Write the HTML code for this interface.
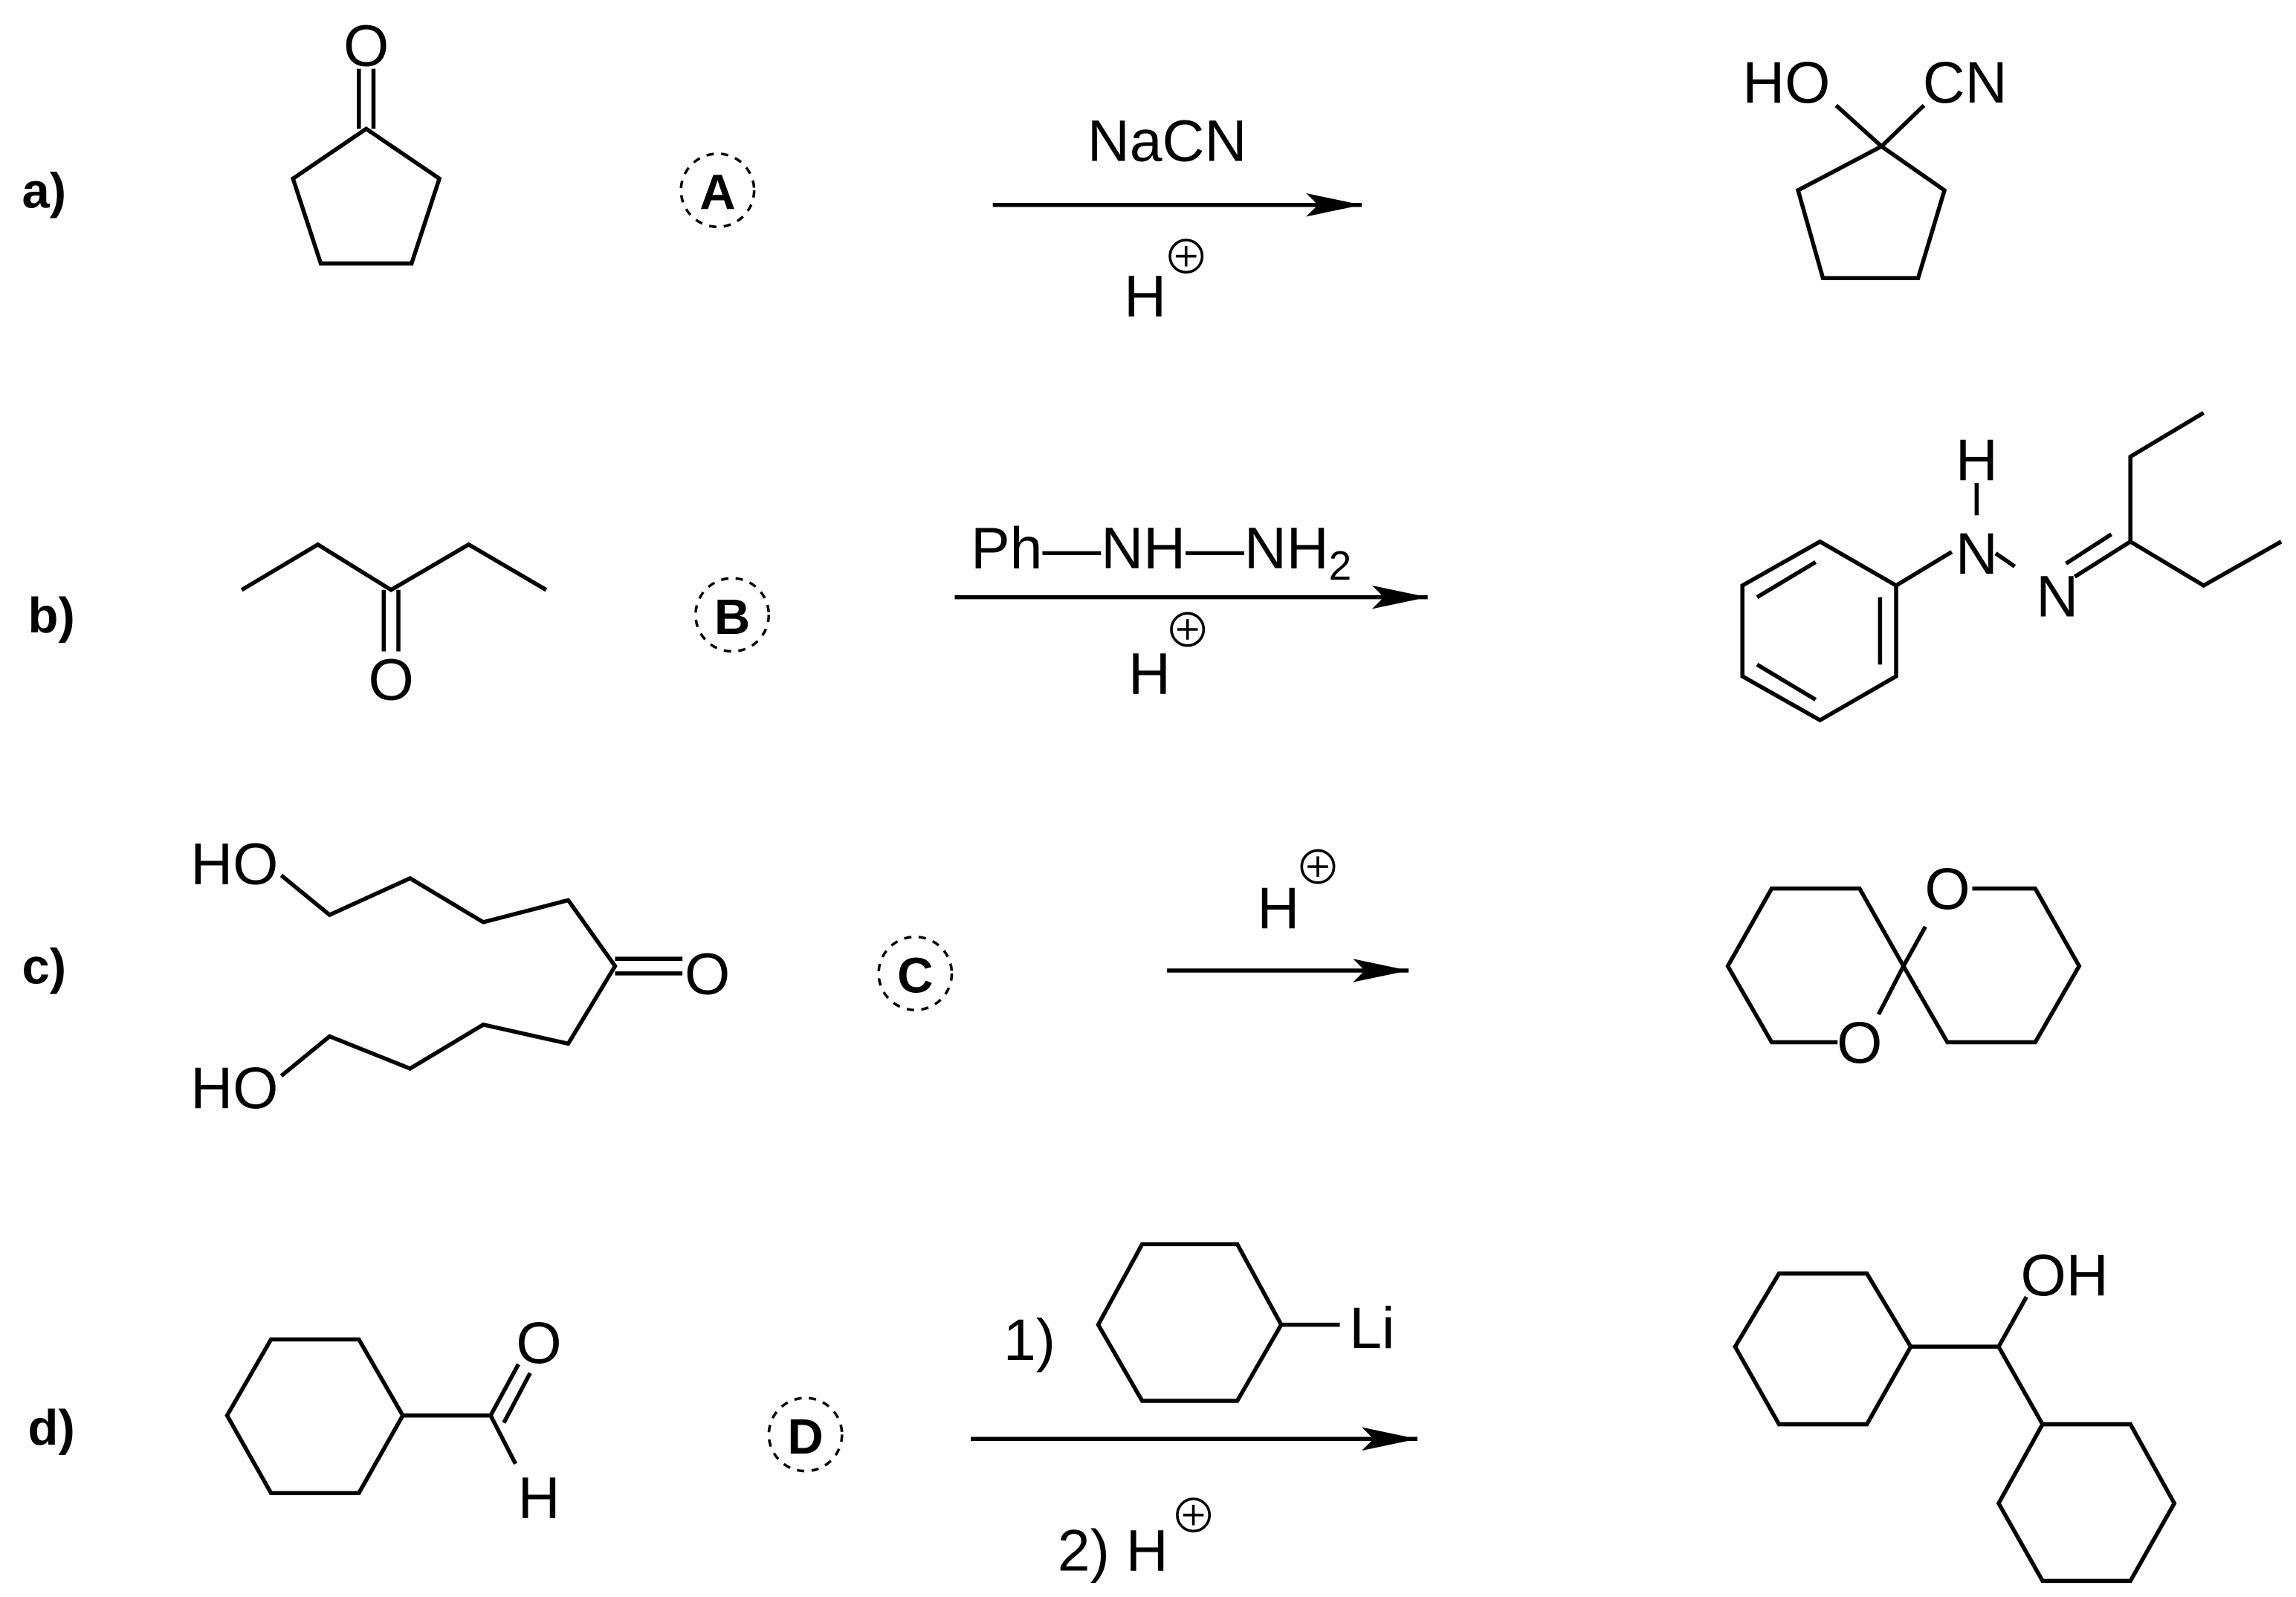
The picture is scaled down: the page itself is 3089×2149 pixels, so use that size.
<!DOCTYPE html>
<html><head><meta charset="utf-8"><style>
html,body{margin:0;padding:0;background:#fff;}
svg{display:block;}
text{font-family:"Liberation Sans",sans-serif;fill:#000;}
</style></head><body>
<svg width="3089" height="2149" viewBox="0 0 1568 1091" xmlns="http://www.w3.org/2000/svg">
<defs>
<marker id="ah" markerWidth="40" markerHeight="20" refX="38" refY="10" orient="auto" markerUnits="userSpaceOnUse">
<path d="M0,2 L38,10 L0,18 L8,10 Z" fill="#000"/>
</marker>
</defs>
<g fill="none" stroke="#000" stroke-width="2.8" stroke-linejoin="miter">
<polygon points="250,88 300,122 281,180 219,180 200,122"/>
<line x1="245" y1="47" x2="245" y2="88"/><line x1="255" y1="47" x2="255" y2="88"/>
<polygon points="1285,100 1328,130 1310,190 1245,190 1228,130"/>
<line x1="1285" y1="100" x2="1254" y2="72"/><line x1="1285" y1="100" x2="1314" y2="72"/>
<line x1="678" y1="140" x2="930" y2="140" marker-end="url(#ah)"/>
<line x1="652" y1="408" x2="975" y2="408" marker-end="url(#ah)"/>
<line x1="797" y1="663" x2="962" y2="663" marker-end="url(#ah)"/>
<line x1="663" y1="983" x2="968" y2="983" marker-end="url(#ah)"/>
<polyline points="165,403 217,372 267,403 320,372 373,403"/>
<line x1="262" y1="403" x2="262" y2="445"/><line x1="272" y1="403" x2="272" y2="445"/>
<polygon points="1243,370 1295,400 1295,462 1243,492 1190,462 1190,400"/>
<line x1="1200" y1="408" x2="1240" y2="384"/>
<line x1="1284" y1="408" x2="1284" y2="454"/>
<line x1="1200" y1="454" x2="1240" y2="478"/>
<line x1="1295" y1="400" x2="1333" y2="377"/>
<line x1="1350" y1="330" x2="1350" y2="352"/>
<line x1="1363" y1="378" x2="1376" y2="387"/>
<line x1="1417" y1="394" x2="1455" y2="370"/>
<line x1="1411" y1="385" x2="1442" y2="365"/>
<polyline points="1505,282 1455,312 1455,370 1505,400 1558,370"/>
<polyline points="192,598 225,625 280,600 330,630 388,615 420,660 388,713 330,700 280,730 225,708 192,735"/>
<line x1="420" y1="655" x2="466" y2="655"/><line x1="420" y1="665" x2="466" y2="665"/>
<polyline points="1255,712 1210,712 1180,660 1210,607 1270,607 1300,660 1283,693"/>
<polyline points="1300,660 1315,633"/>
<polyline points="1347,607 1390,607 1420,660 1390,712 1330,712 1300,660"/>
<polygon points="185,915 245,915 275,967 245,1020 185,1020 155,967"/>
<line x1="275" y1="967" x2="335" y2="967"/>
<line x1="335" y1="967" x2="354" y2="932"/><line x1="344" y1="972" x2="362" y2="938"/>
<line x1="335" y1="967" x2="352" y2="1000"/>
<polygon points="780,850 845,850 875,905 845,957 780,957 750,905"/>
<line x1="875" y1="905" x2="915" y2="905"/>
<polygon points="1215,870 1275,870 1305,920 1275,973 1215,973 1185,920"/>
<line x1="1305" y1="920" x2="1365" y2="920"/>
<line x1="1365" y1="920" x2="1384" y2="886"/>
<line x1="1365" y1="920" x2="1395" y2="973"/>
<polygon points="1395,973 1455,973 1485,1027 1455,1080 1395,1080 1365,1027"/>
<g stroke-width="1.8" stroke-dasharray="5,5">
<circle cx="490" cy="130" r="25"/>
<circle cx="500" cy="420" r="25"/>
<circle cx="625" cy="665" r="25"/>
<circle cx="550" cy="980" r="25"/>
</g>
<g stroke-width="1.8">
<circle cx="810" cy="175" r="11"/><line x1="803" y1="175" x2="817" y2="175"/><line x1="810" y1="168" x2="810" y2="182"/>
<circle cx="811" cy="430" r="11"/><line x1="804" y1="430" x2="818" y2="430"/><line x1="811" y1="423" x2="811" y2="437"/>
<circle cx="900" cy="592" r="11"/><line x1="893" y1="592" x2="907" y2="592"/><line x1="900" y1="585" x2="900" y2="599"/>
<circle cx="815" cy="1035" r="11"/><line x1="808" y1="1035" x2="822" y2="1035"/><line x1="815" y1="1028" x2="815" y2="1042"/>
</g>
</g>
<g font-size="40" text-anchor="middle">
<text x="250" y="45">O</text>
<text x="797" y="110">NaCN</text>
<text x="782" y="216">H</text>
<text x="1220" y="70">HO</text>
<text x="1342" y="70">CN</text>
<text x="267" y="478">O</text>
<text x="793" y="388">Ph—NH—NH<tspan font-size="28" dy="8">2</tspan></text>
<text x="785" y="474">H</text>
<text x="1350" y="328">H</text>
<text x="1350" y="392">N</text>
<text x="1405" y="421">N</text>
<text x="160" y="604">HO</text>
<text x="483" y="679">O</text>
<text x="160" y="757">HO</text>
<text x="873" y="634">H</text>
<text x="1330" y="621">O</text>
<text x="1270" y="726">O</text>
<text x="368" y="931">O</text>
<text x="368" y="1037">H</text>
<text x="703" y="929">1)</text>
<text x="937" y="921">Li</text>
<text x="760" y="1073">2) H</text>
<text x="1410" y="885">OH</text>
</g>
<g font-size="34" font-weight="bold" text-anchor="middle">
<text x="30" y="142">a)</text>
<text x="35" y="432">b)</text>
<text x="30" y="672">c)</text>
<text x="35" y="987">d)</text>
<text x="490" y="143">A</text>
<text x="500" y="433">B</text>
<text x="625" y="678">C</text>
<text x="550" y="993">D</text>
</g>
</svg>
</body></html>
